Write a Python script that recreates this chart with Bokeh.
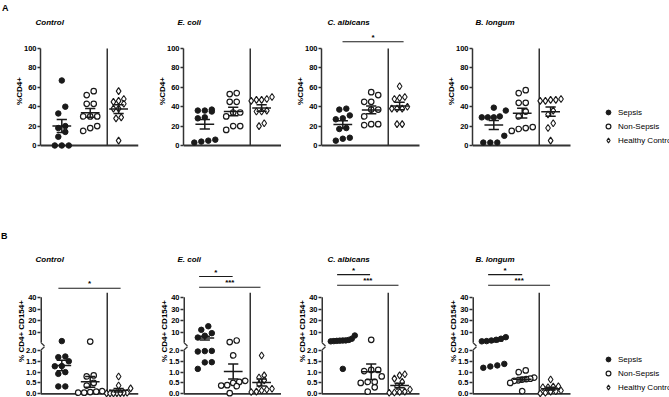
import numpy as np
from bokeh.plotting import figure
from bokeh.layouts import row, column
from bokeh.models import Range1d, FixedTicker, Legend, LegendItem, Title
from bokeh.core.properties import value
from bokeh.embed import file_html
from bokeh.resources import INLINE

groups = ["Sepsis", "Non-Sepsis", "Healthy Control"]
stimuli = ["Control", "E. coli", "C. albicans", "B. longum"]
panel_letters = ["A", "B"]

# ---------------- A: %CD4+ ----------------
cd4_control_sepsis = [67, 40, 33, 20, 18, 14, 9, 0, 0, 0]
cd4_control_nonsepsis = [56, 52, 43, 43, 30, 30, 30, 20, 18, 15]
cd4_control_healthy = [56, 48, 46, 45, 43, 38, 38, 29, 28, 5]

cd4_ecoli_sepsis = [37, 36, 36, 35, 29, 28, 6, 5, 4, 3]
cd4_ecoli_nonsepsis = [54, 53, 45, 45, 34, 34, 30, 20, 20, 16]
cd4_ecoli_healthy = [50, 48, 47, 47, 46, 36, 35, 35, 23, 20]

cd4_calbicans_sepsis = [38, 37, 31, 28, 27, 18, 17, 8, 7, 5]
cd4_calbicans_nonsepsis = [55, 52, 45, 45, 37, 37, 30, 22, 22, 21]
cd4_calbicans_healthy = [61, 50, 49, 48, 40, 38, 38, 38, 22, 22]

cd4_blongum_sepsis = [39, 36, 30, 29, 29, 29, 10, 3, 3, 3]
cd4_blongum_nonsepsis = [57, 54, 44, 44, 35, 30, 19, 18, 17, 15]
cd4_blongum_healthy = [48, 47, 47, 46, 46, 36, 32, 23, 18, 5]

# ---------------- B: % CD4+ CD154+ ----------------
cd154_control_sepsis = [3.0, 1.72, 1.69, 1.5, 1.28, 1.27, 1.0, 0.92, 0.34, 0.34]
cd154_control_nonsepsis = [2.6, 0.85, 0.8, 0.5, 0.38, 0.12, 0.1, 0.08, 0.05, 0.05]
cd154_control_healthy = [0.8, 0.38, 0.25, 0.05, 0.04, 0.03, 0.03, 0.02, 0.02, 0.02]

cd154_ecoli_sepsis = [15.5, 12.5, 9.7, 7.5, 6.0, 1.98, 1.97, 1.95, 1.46, 1.45, 1.15]
cd154_ecoli_nonsepsis = [3.5, 2.2, 1.77, 0.6, 0.55, 0.5, 0.4, 0.38, 0.35, 0.03]
cd154_ecoli_healthy = [1.77, 0.85, 0.75, 0.62, 0.45, 0.23, 0.2, 0.15, 0.1, 0.08]

cd154_calbicans_sepsis = [7.7, 5.0, 4.0, 3.6, 3.5, 3.4, 3.2, 3.0, 2.8, 1.15]
cd154_calbicans_nonsepsis = [4.1, 1.1, 1.1, 1.05, 0.8, 0.55, 0.55, 0.5, 0.3, 0.1]
cd154_calbicans_healthy = [0.9, 0.85, 0.7, 0.55, 0.35, 0.2, 0.1, 0.08, 0.06, 0.05]

cd154_blongum_sepsis = [6.3, 5.0, 4.1, 3.5, 3.0, 2.8, 1.38, 1.31, 1.26, 1.2]
cd154_blongum_nonsepsis = [1.08, 1.0, 0.75, 0.7, 0.68, 0.65, 0.62, 0.6, 0.5, 0.12]
cd154_blongum_healthy = [0.66, 0.35, 0.33, 0.3, 0.3, 0.15, 0.12, 0.1, 0.05, 0.02]

cd4_ticks = [0, 20, 40, 60, 80, 100]
cd154_low_ticks = [0.0, 0.5, 1.0, 1.5, 2.0]
cd154_high_ticks = [10, 20, 30, 40]

# significance brackets: (stimulus, start x, end x, height, stars)
cd4_brackets = [("C. albicans", 0.99, 3.14, 107, "*")]
cd154_brackets = [
    ("Control", 0.88, 3.07, 47.5, "*"),
    ("E. coli", 0.8, 1.98, 57.4, "*"),
    ("E. coli", 0.8, 2.96, 48.4, "***"),
    ("C. albicans", 0.8, 1.96, 59.0, "*"),
    ("C. albicans", 0.8, 2.96, 50.0, "***"),
    ("B. longum", 0.8, 2.0, 59.0, "*"),
    ("B. longum", 0.8, 2.98, 50.0, "***"),
]

cd4_sets = {
    "Control": [cd4_control_sepsis, cd4_control_nonsepsis, cd4_control_healthy],
    "E. coli": [cd4_ecoli_sepsis, cd4_ecoli_nonsepsis, cd4_ecoli_healthy],
    "C. albicans": [cd4_calbicans_sepsis, cd4_calbicans_nonsepsis, cd4_calbicans_healthy],
    "B. longum": [cd4_blongum_sepsis, cd4_blongum_nonsepsis, cd4_blongum_healthy],
}
cd154_sets = {
    "Control": [cd154_control_sepsis, cd154_control_nonsepsis, cd154_control_healthy],
    "E. coli": [cd154_ecoli_sepsis, cd154_ecoli_nonsepsis, cd154_ecoli_healthy],
    "C. albicans": [cd154_calbicans_sepsis, cd154_calbicans_nonsepsis, cd154_calbicans_healthy],
    "B. longum": [cd154_blongum_sepsis, cd154_blongum_nonsepsis, cd154_blongum_healthy],
}

FONT = "Liberation Sans"
INK = "#1a1a1a"
AXIS = "#333333"
X_START, X_END = 0.25, 3.7
PX_PER_X = 98 / (X_END - X_START)
SEPARATOR_X = 2.6

# broken y axis for panel B: 0-2 linear, then a compressed 2-40 segment
BREAK_LOW = 2.0
UPPER_BASE = 2.377
UPPER_SCALE = 0.0548


def identity(v):
    return np.asarray(v, dtype=float)


def cd154_axis(v):
    v = np.asarray(v, dtype=float)
    return np.where(v <= BREAK_LOW, v, UPPER_BASE + (v - BREAK_LOW) * UPPER_SCALE)


def swarm_offsets(ypx, step, max_width=24.0):
    """Spread points that would overlap into centred horizontal rows (pixels)."""
    ypx = np.asarray(ypx, dtype=float)
    order = np.argsort(ypx, kind="stable")
    offsets = np.zeros(len(ypx))
    i = 0
    while i < len(order):
        j = i
        while j + 1 < len(order) and ypx[order[j + 1]] - ypx[order[i]] < step:
            j += 1
        members = order[i:j + 1]
        n = len(members)
        s = step if n < 2 else min(step, max_width / (n - 1))
        offsets[members] = (np.arange(n) - (n - 1) / 2) * s
        i = j + 1
    return offsets


STYLES = [
    dict(marker="circle", size=5.5, fill_color=INK, line_color=INK, line_width=1.0, step=7.0),
    dict(marker="circle", size=5.5, fill_color="white", line_color=INK, line_width=1.2, step=7.0),
    dict(marker="diamond", size=7.0, fill_color="white", line_color=INK, line_width=1.1, step=5.2),
]

# figure columns: (width, left border, frame width, title offset)
COLS = [(140, 40, 98, -5), (141, 43, 98, -6), (139, 40, 99, 6), (249, 52, 197, 3)]
# rows: (height, top border, bottom border, y start, y end, title standoff, letter standoff, letter offset)
ROW_A = (200, 28, 47, -8.25, 120.6, 4, 0.5, -38.5)
ROW_B = (197, 64, 0, -0.171, 5.967, 1, 24, -39.5)


def make_title(text, size, style, offset, standoff):
    return Title(text=text, text_font=FONT, text_font_size=size, text_font_style=style,
                 text_color="black", align="left", offset=offset, standoff=standoff)


def make_fig(col, spec, name, letter=None):
    width, left, frame_w, toff = col
    height, top, bottom, y0, y1, tstand, lstand, loff = spec
    x_end = X_START + frame_w / PX_PER_X
    p = figure(width=width, height=height, x_range=Range1d(X_START, x_end), y_range=Range1d(y0, y1),
               x_axis_location=None, output_backend="svg", toolbar_location=None,
               min_border_left=left, min_border_right=width - left - frame_w,
               min_border_top=top, min_border_bottom=bottom, title=None)
    p.grid.visible = False
    p.outline_line_color = None
    p.add_layout(make_title(name, "8px", "bold italic", toff, tstand), "above")
    if letter is not None:
        p.add_layout(make_title(letter, "9px", "bold", loff, lstand), "above")
    return p


def style_yaxis(p, label, ticks, bounds, overrides):
    ax = p.yaxis[0]
    ax.ticker = FixedTicker(ticks=list(ticks))
    ax.bounds = bounds
    ax.major_label_overrides = overrides
    ax.axis_label = label
    ax.axis_label_text_font = FONT
    ax.axis_label_text_font_size = "8px"
    ax.axis_label_text_font_style = "bold"
    ax.axis_label_text_color = "black"
    ax.axis_label_standoff = -3
    ax.major_label_text_font = FONT
    ax.major_label_text_font_size = "7.5px"
    ax.major_label_text_font_style = "bold"
    ax.major_label_text_color = "black"
    ax.major_label_standoff = 1
    ax.major_tick_in = 0
    ax.major_tick_out = 3
    ax.major_tick_line_width = 1.4
    ax.major_tick_line_color = AXIS
    ax.minor_tick_line_color = None
    ax.axis_line_width = 1.5
    ax.axis_line_color = AXIS
    return ax


def build_row(sets, ymap, spec, ylabel, ticks, bounds, overrides, brackets, sep_top, letter):
    height, top, bottom, y0, y1 = spec[:5]
    ky = (height - top - bottom) / (y1 - y0)
    figs = []
    last_rends = None
    for ci, name in enumerate(stimuli):
        p = make_fig(COLS[ci], spec, name, letter if ci == 0 else None)
        style_yaxis(p, ylabel, ticks, bounds, overrides)

        # x axis line and the vertical divider before the healthy controls
        p.segment(x0=[X_START], y0=[0], x1=[X_END], y1=[0], line_color=AXIS, line_width=1.8)
        p.segment(x0=[SEPARATOR_X], y0=[0], x1=[SEPARATOR_X], y1=[float(ymap(sep_top))],
                  line_color=AXIS, line_width=1.5)

        rends = []
        for gi, vals in enumerate(sets[name]):
            st = STYLES[gi]
            vals = np.asarray(vals, dtype=float)
            yd = ymap(vals)
            dx = swarm_offsets(yd * ky, st["step"]) / PX_PER_X
            r = p.scatter(gi + 1 + dx, yd, marker=st["marker"], size=st["size"],
                          fill_color=st["fill_color"], line_color=st["line_color"],
                          line_width=st["line_width"])
            rends.append(r)
        # mean with SEM
        for gi, vals in enumerate(sets[name]):
            vals = np.asarray(vals, dtype=float)
            m = vals.mean()
            sem = vals.std(ddof=1) / np.sqrt(len(vals))
            xc = gi + 1
            ym, yhi, ylo = (float(v) for v in ymap([m, m + sem, max(m - sem, 0.0)]))
            p.segment(x0=[xc - 0.33, xc - 0.18, xc - 0.18, xc], y0=[ym, yhi, ylo, ylo],
                      x1=[xc + 0.33, xc + 0.18, xc + 0.18, xc], y1=[ym, yhi, ylo, yhi],
                      line_color=INK, line_width=1.5)

        for (stim, xa, xb, h, txt) in brackets:
            if stim != name:
                continue
            yh = float(ymap(h))
            p.segment(x0=[xa], y0=[yh], x1=[xb], y1=[yh], line_color=INK, line_width=1.1)
            p.text(x=[(xa + xb) / 2], y=[yh], text=[txt], text_font=value(FONT), text_font_size="8px",
                   text_font_style="bold", text_align="center", text_baseline="bottom", text_color="black")
        figs.append(p)
        last_rends = rends
    return figs, last_rends


# ---- panel A ----
cd4_over = {t: str(t) for t in cd4_ticks}
figs_a, rends_a = build_row(cd4_sets, identity, ROW_A, "%CD4+", cd4_ticks, (0, 100), cd4_over,
                            cd4_brackets, 100, panel_letters[0])

# ---- panel B (broken axis) ----
b_tick_pos = [float(round(t, 4)) for t in cd154_low_ticks] + \
             [float(round(float(cd154_axis(t)), 4)) for t in cd154_high_ticks]
b_tick_txt = ["%.1f" % t for t in cd154_low_ticks] + [str(t) for t in cd154_high_ticks]
cd154_over = dict(zip(b_tick_pos, b_tick_txt))
figs_b, rends_b = build_row(cd154_sets, cd154_axis, ROW_B, "% CD4+ CD154+", b_tick_pos,
                            (0, b_tick_pos[-1]), cd154_over, cd154_brackets, 43.8, panel_letters[1])

# broken axis line drawn in two pieces with small break ticks
for p in figs_b:
    p.yaxis[0].axis_line_color = None
    x0 = X_START
    p.segment(x0=[x0, x0], y0=[0, UPPER_BASE], x1=[x0, x0], y1=[BREAK_LOW, b_tick_pos[-1]],
              line_color=AXIS, line_width=3)
    p.segment(x0=[x0, x0], y0=[BREAK_LOW, UPPER_BASE], x1=[x0 + 0.14, x0 + 0.14],
              y1=[BREAK_LOW + 0.17, UPPER_BASE - 0.17], line_color=AXIS, line_width=1.2)


def add_legend(p, rends, loc):
    legend = Legend(items=[LegendItem(label=value(g), renderers=[r]) for g, r in zip(groups, rends)],
                    location=loc, orientation="vertical", glyph_width=12, glyph_height=12,
                    label_height=12, label_standoff=4, spacing=2, padding=0, margin=0,
                    border_line_color=None, background_fill_alpha=0,
                    label_text_font=FONT, label_text_font_size="8px", label_text_color="black")
    p.add_layout(legend, "center")


add_legend(figs_a[3], rends_a, (130, 7))
add_legend(figs_b[3], rends_b, (130, 4))

layout = column(row(*figs_a), row(*figs_b))
open("out.html", "w").write(file_html(layout, INLINE))
